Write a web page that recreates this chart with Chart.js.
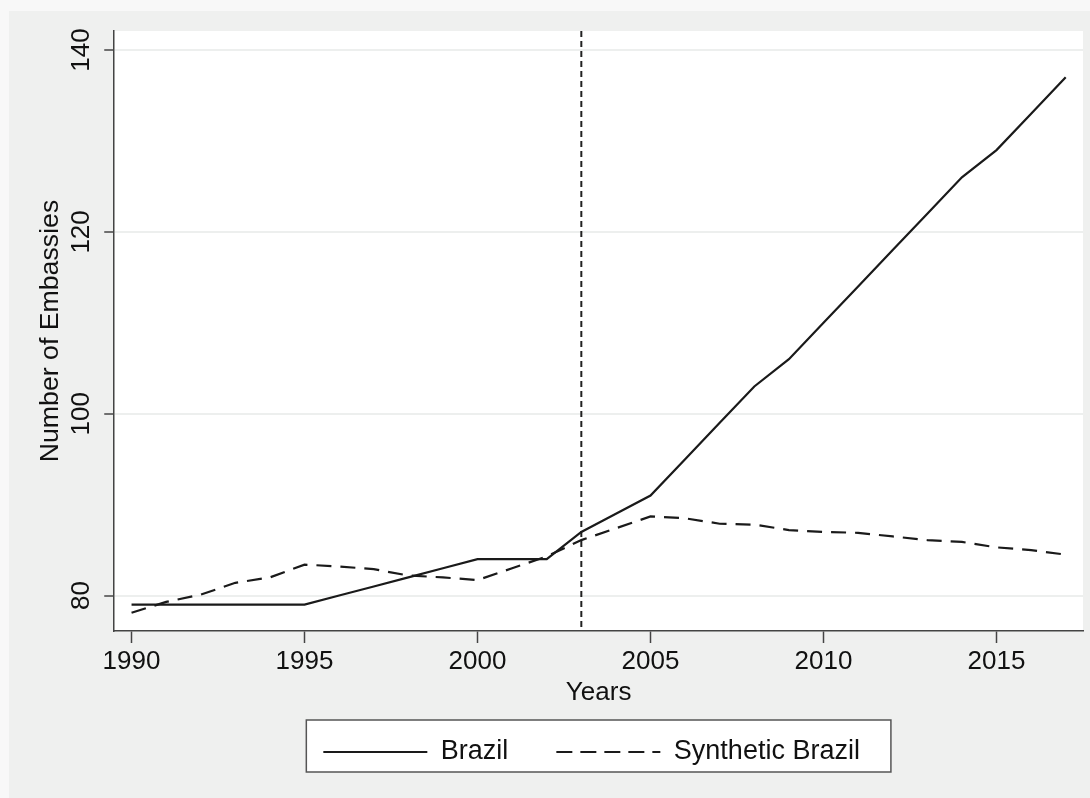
<!DOCTYPE html>
<html>
<head>
<meta charset="utf-8">
<script src="https://cdn.jsdelivr.net/npm/chart.js@4.4.1/dist/chart.umd.min.js"></script>
<style>
  html, body { margin: 0; padding: 0; background: #f8f8f8; }
  #frame { position: absolute; left: 9px; top: 11px; width: 1081px; height: 787px; background: #eff0ef; }
  canvas { display: block; }
</style>
</head>
<body>
<div id="frame"><canvas id="embassyChart" width="1081" height="787"></canvas></div>
<script>
// Embassies: Brazil vs synthetic control
const years = [1990, 1991, 1992, 1993, 1994, 1995, 1996, 1997, 1998, 1999,
  2000, 2001, 2002, 2003, 2004, 2005, 2006, 2007, 2008, 2009,
  2010, 2011, 2012, 2013, 2014, 2015, 2016, 2017];
const brazil = [79, 79, 79, 79, 79, 79, 80, 81, 82, 83,
  84, 84, 84, 87, 89, 91, 95, 99, 103, 106,
  110, 114, 118, 122, 126, 129, 133, 137];
const syntheticBrazil = [78.1, 79.3, 80.1, 81.4, 82.0, 83.4, 83.2, 82.9, 82.2, 82.0,
  81.7, 83.0, 84.3, 86.1, 87.4, 88.7, 88.5, 87.9, 87.8, 87.2,
  87.0, 86.9, 86.5, 86.1, 85.9, 85.3, 85.0, 84.5];
const xTicks = [1990, 1995, 2000, 2005, 2010, 2015];
const yTicks = [80, 100, 120, 140];
const treatmentYear = 2003;

const fontFamily = "'Liberation Sans', Arial, Helvetica, sans-serif";
const ink = '#111';
const axisColor = '#444';
const legendShift = -7; // legend sits a little left of the plot centre

const toPoints = vals => years.map((yr, i) => ({ x: yr, y: vals[i] }));

// white plot region + framed legend
const backdrop = {
  id: 'backdrop',
  afterLayout(chart) {
    const lg = chart.legend;
    if (lg) { lg.left += legendShift; lg.right += legendShift; }
  },
  beforeDraw(chart) {
    const { ctx, chartArea: a } = chart;
    ctx.save();
    ctx.fillStyle = '#ffffff';
    ctx.fillRect(a.left, a.top, a.right - a.left, a.bottom - a.top);
    const hb = chart.legend && chart.legend.legendHitBoxes;
    if (hb && hb.length) {
      const first = hb[0], last = hb[hb.length - 1];
      const x0 = first.left - 17, x1 = last.left + last.width + 31;
      const y0 = first.top - 18.5, y1 = first.top + 33.5;
      ctx.fillRect(x0, y0, x1 - x0, y1 - y0);
      ctx.strokeStyle = '#555';
      ctx.lineWidth = 1.5;
      ctx.strokeRect(x0, y0, x1 - x0, y1 - y0);
    }
    ctx.restore();
  }
};

// dashed vertical line at the treatment year
const treatmentLine = {
  id: 'treatmentLine',
  beforeDatasetsDraw(chart) {
    const { ctx, chartArea: a, scales: { x } } = chart;
    const px = x.getPixelForValue(treatmentYear);
    ctx.save();
    ctx.strokeStyle = '#222';
    ctx.lineWidth = 2;
    ctx.setLineDash([6, 4]);
    ctx.beginPath();
    ctx.moveTo(px, a.top);
    ctx.lineTo(px, a.bottom);
    ctx.stroke();
    ctx.restore();
  }
};

const ctx = document.getElementById('embassyChart').getContext('2d');

new Chart(ctx, {
  type: 'line',
  data: {
    datasets: [{
      label: 'Brazil',
      data: toPoints(brazil),
      borderColor: '#1a1a1a',
      backgroundColor: 'transparent',
      borderWidth: 2.2
    }, {
      label: 'Synthetic Brazil',
      data: toPoints(syntheticBrazil),
      borderColor: '#1a1a1a',
      backgroundColor: 'transparent',
      borderWidth: 2.2,
      borderDash: [15, 9]
    }]
  },
  options: {
    responsive: false,
    animation: false,
    layout: { padding: { left: 25, right: 7, top: 20, bottom: 22.5 } },
    elements: { point: { radius: 0 }, line: { tension: 0 } },
    plugins: {
      legend: {
        position: 'bottom',
        fullSize: false,
        labels: {
          boxWidth: 104,
          boxHeight: 0,
          padding: 48,
          color: ink,
          font: { family: fontFamily, size: 27 }
        }
      },
      tooltip: { enabled: false }
    },
    scales: {
      x: {
        type: 'linear',
        min: 1989.5,
        max: 2017.5,
        afterBuildTicks: s => { s.ticks = xTicks.map(v => ({ value: v })); },
        grid: { drawOnChartArea: false, tickLength: 12, tickColor: axisColor, tickWidth: 1.5 },
        border: { color: axisColor, width: 1.5 },
        ticks: { color: ink, padding: 3, maxRotation: 0, font: { family: fontFamily, size: 26 }, callback: v => String(v) },
        title: { display: true, text: 'Years', color: ink, font: { family: fontFamily, size: 26 }, padding: { top: -2.8, bottom: -18.1 } }
      },
      y: {
        min: 76.1,
        max: 142.1,
        afterBuildTicks: s => { s.ticks = yTicks.map(v => ({ value: v })); },
        grid: { color: '#edefee', lineWidth: 2, tickLength: 10, tickColor: axisColor, tickWidth: 1.5 },
        border: { color: axisColor, width: 1.5 },
        ticks: { color: ink, padding: 1, minRotation: 90, maxRotation: 90, crossAlign: 'center', font: { family: fontFamily, size: 26 }, callback: v => String(v) },
        title: { display: true, text: 'Number of Embassies', color: ink, font: { family: fontFamily, size: 26.7 }, padding: { top: 1, bottom: 4 } }
      }
    }
  },
  plugins: [backdrop, treatmentLine]
});
</script>
</body>
</html>
